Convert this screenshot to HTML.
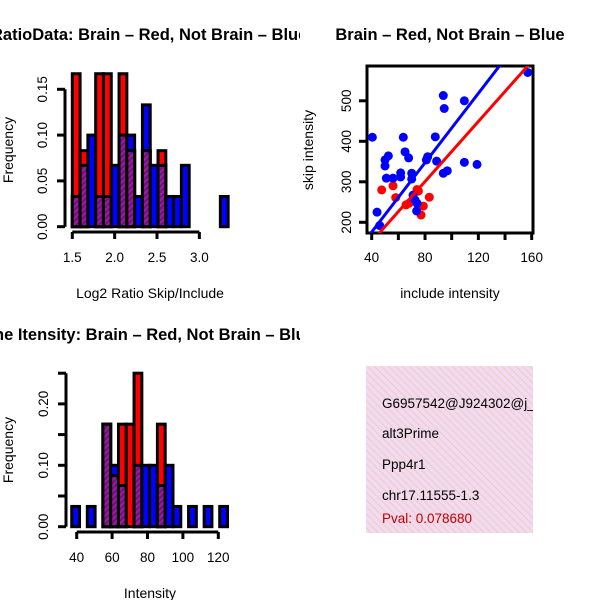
<!DOCTYPE html>
<html><head><meta charset="utf-8">
<style>
body{margin:0;background:#fff;}
svg{display:block;font-family:"Liberation Sans",sans-serif;}
</style></head>
<body>
<svg id="root" width="600" height="600" viewBox="0 0 600 600">
<defs>
<pattern id="purp" patternUnits="userSpaceOnUse" width="4" height="4" patternTransform="rotate(45)">
<rect width="4" height="4" fill="#9a1aa8"/><rect width="2" height="4" fill="#6f1370"/>
</pattern>
<pattern id="pink" patternUnits="userSpaceOnUse" width="5" height="5" patternTransform="rotate(-45)">
<rect width="5" height="5" fill="#f8d8f0"/><rect width="1.2" height="5" fill="#ddd6cc"/>
</pattern>
<clipPath id="clipBox"><rect x="367" y="66" width="166" height="167"/></clipPath>
<clipPath id="clipInfo"><rect x="366" y="366" width="167" height="167"/></clipPath>
</defs>
<g id="p1"></g>
<g id="p2"></g>
<g id="p3"></g>
<g clip-path="url(#clipInfo)">
<rect x="366" y="366" width="167" height="167" fill="url(#pink)"/>
<text x="382" y="408" font-size="13.5">G6957542@J924302@j_</text>
<text x="382" y="438" font-size="13.5">alt3Prime</text>
<text x="382" y="469" font-size="13.5">Ppp4r1</text>
<text x="382" y="500" font-size="13.5">chr17.11555-1.3</text>
<text x="382" y="523" font-size="13.5" fill="#c00000">Pval: 0.078680</text>
</g>
</svg>
<script>
// ---- Plot 1 data ----
const h1Start = 1.5, h1Width = 0.092;
const h1Red  = [0.167,0.083,0,0.167,0.167,0,0.167,0.083,0,0.083,0,0.083,0,0,0,0,0,0,0,0];
const h1Blue = [0.033,0.067,0.1,0.033,0.033,0.067,0.1,0.1,0.033,0.133,0.067,0.067,0.033,0.033,0.067,0,0,0,0,0.033];
const h1XTicks = [1.5,2.0,2.5,3.0];
const h1XLabels = ["1.5","2.0","2.5","3.0"];
const h1YTicks = [0,0.05,0.10,0.15];
const h1YLabels = ["0.00","0.05","0.10","0.15"];
// ---- Plot 2 data ----
const blueX = [40.5,44,46,50,50,52.5,51,56,61.7,61.7,63.7,65,67.7,70,70,71,72.5,73.7,74,81,82,87.7,88.7,93.7,94.4,93.7,96.7,109.5,109.5,119,157];
const blueY = [410,225,192,354,339,364,309,309,322,312,410,374,359,321,307,267,255,228,247,354,362,411,351,513,481,321,327,500,348,343,570];
const redX = [47.5,56,58,65.7,68,74,75,78.7,77,83.2];
const redY = [280,290,261,243,247,281,277,240,218,262];
const blueFit = [4.8,4.28];   // intercept, slope
const redFit = [4.2,3.706];
const sXTicks = [40,60,80,100,120,140,160];
const sXLabels = ["40","","80","","120","","160"];
const sYTicks = [200,300,400,500];
const sYLabels = ["200","300","400","500"];
// ---- Plot 3 data ----
const h3Start = 37.2, h3Width = 4.4;
const h3Red  = [0,0,0,0,0.167,0.083,0.167,0.167,0.25,0,0,0.167,0,0,0,0,0,0,0,0];
const h3Blue = [0.033,0,0.033,0,0.167,0.1,0.067,0,0.1,0.1,0.1,0.067,0.1,0.033,0,0.033,0,0.033,0,0.033];
const h3XTicks = [40,60,80,100,120];
const h3XLabels = ["40","60","80","100","120"];
const h3YTicks = [0,0.05,0.10,0.15,0.20,0.25];
const h3YLabels = ["0.00","","0.10","","0.20",""];

const NS="http://www.w3.org/2000/svg";
const TF=13.5;
function mk(parent,tag,attrs){const e=document.createElementNS(NS,tag);for(const k in attrs)e.setAttribute(k,attrs[k]);parent.appendChild(e);return e;}

function hist(g,o){
  const sx=v=>o.x0+(v-o.d0)*o.kx, sy=v=>o.y0-v*o.ky;
  for(let i=0;i<o.red.length;i++){
    const a=o.start+i*o.width,b=a+o.width;
    const xa=sx(a),xb=sx(b);
    const r=o.red[i],bl=o.blue[i],m=Math.min(r,bl);
    if(bl>0){const e=mk(g,'rect',{x:xa,y:sy(bl),width:xb-xa,height:sy(0)-sy(bl),fill:'#0000ff',stroke:'#000','stroke-width':3});
      
      }
    if(r>0){const e=mk(g,'rect',{x:xa,y:sy(r),width:xb-xa,height:sy(0)-sy(r),fill:'#ff0000',stroke:'#000','stroke-width':3});
      
      }
    if(m>0){const e=mk(g,'rect',{x:xa,y:sy(m),width:xb-xa,height:sy(0)-sy(m),fill:'url(#purp)',stroke:'#000','stroke-width':3});
      
      }
  }
  const xa=mk(g,'line',{x1:sx(o.xt[0]),x2:sx(o.xt[o.xt.length-1]),y1:o.xAxisY,y2:o.xAxisY,stroke:'#000','stroke-width':3});
  
  
  o.xt.forEach((t,i)=>{
    mk(g,'line',{x1:sx(t),x2:sx(t),y1:o.xAxisY,y2:o.xAxisY+7,stroke:'#000','stroke-width':3});
    const tx=mk(g,'text',{x:sx(t),y:o.xAxisY+30,'font-size':TF,'text-anchor':'middle'});
    tx.textContent=o.xl[i];
    
    
  });
  const ya=mk(g,'line',{x1:o.yAxisX,x2:o.yAxisX,y1:sy(o.yt[0]),y2:sy(o.yt[o.yt.length-1]),stroke:'#000','stroke-width':3});
  
  
  o.yt.forEach((t,i)=>{
    mk(g,'line',{x1:o.yAxisX-8,x2:o.yAxisX,y1:sy(t),y2:sy(t),stroke:'#000','stroke-width':3});
    if(o.yl[i]){const tx=mk(g,'text',{x:0,y:0,'font-size':TF,'text-anchor':'middle',transform:`translate(${o.yAxisX-18},${sy(t)}) rotate(-90)`});
    tx.textContent=o.yl[i];
    
    }
  });
}

const p1=document.getElementById('p1');
hist(p1,{red:h1Red,blue:h1Blue,start:h1Start,width:h1Width,x0:72.3,d0:1.5,kx:84.7,y0:226.7,ky:916,xt:h1XTicks,xl:h1XLabels,yt:h1YTicks,yl:h1YLabels,xAxisY:232,yAxisX:65});
const p3=document.getElementById('p3');
hist(p3,{red:h3Red,blue:h3Blue,start:h3Start,width:h3Width,x0:76.7,d0:40,kx:1.77,y0:526.7,ky:614,xt:h3XTicks,xl:h3XLabels,yt:h3YTicks,yl:h3YLabels,xAxisY:532,yAxisX:66});

const p2=document.getElementById('p2');
const px=v=>371.7+(v-40)*1.3333, py=v=>222.3-(v-200)*0.405;
const box=mk(p2,'rect',{x:367,y:66,width:166,height:167,fill:'none',stroke:'#000','stroke-width':3});


const cg=mk(p2,'g',{'clip-path':'url(#clipBox)'});
redX.forEach((v,i)=>{const c=mk(cg,'circle',{cx:px(v),cy:py(redY[i]),r:4.5,fill:'#ff0000'});
  
  });
blueX.forEach((v,i)=>{const c=mk(cg,'circle',{cx:px(v),cy:py(blueY[i]),r:4.5,fill:'#0000ff'});
  
  });
[[blueFit,'#0000ff','blue-fit-line'],[redFit,'#ff0000','red-fit-line']].forEach(([f,col,nm])=>{
  const l=mk(cg,'line',{x1:px(20),y1:py(f[0]+f[1]*20),x2:px(180),y2:py(f[0]+f[1]*180),stroke:col,'stroke-width':3});
  
  
});
sXTicks.forEach((t,i)=>{
  mk(p2,'line',{x1:px(t),x2:px(t),y1:233,y2:240,stroke:'#000','stroke-width':3});
  if(sXLabels[i]){const tx=mk(p2,'text',{x:px(t),y:262,'font-size':TF,'text-anchor':'middle'});
  tx.textContent=sXLabels[i];
  
  }
});
sYTicks.forEach((t,i)=>{
  mk(p2,'line',{x1:359,x2:367,y1:py(t),y2:py(t),stroke:'#000','stroke-width':3});
  const tx=mk(p2,'text',{x:0,y:0,'font-size':TF,'text-anchor':'middle',transform:`translate(${351},${py(t)}) rotate(-90)`});
  tx.textContent=sYLabels[i];
  
  
});
</script>
<svg width="600" height="600" style="position:absolute;left:0;top:0;font-family:'Liberation Sans',sans-serif">
<defs><clipPath id="cl2"><rect x="0" y="0" width="300" height="600"/></clipPath></defs>
<g clip-path="url(#cl2)">
<text x="-9" y="40" font-size="16.5" font-weight="bold">RatioData: Brain – Red, Not Brain – Blue</text>
<text x="-6" y="340" font-size="16.5" font-weight="bold">ne Itensity: Brain – Red, Not Brain – Blue</text>
</g>
<text x="450" y="40" font-size="16.5" font-weight="bold" text-anchor="middle">Brain – Red, Not Brain – Blue</text>
<text x="150" y="298" font-size="14" text-anchor="middle">Log2 Ratio Skip/Include</text>
<text x="450" y="298" font-size="14" text-anchor="middle">include intensity</text>
<text x="150" y="598" font-size="14" text-anchor="middle">Intensity</text>
<text transform="translate(13,150) rotate(-90)" font-size="14" text-anchor="middle">Frequency</text>
<text transform="translate(313,150) rotate(-90)" font-size="14" text-anchor="middle">skip intensity</text>
<text transform="translate(13,450) rotate(-90)" font-size="14" text-anchor="middle">Frequency</text>
</svg>
</body></html>
